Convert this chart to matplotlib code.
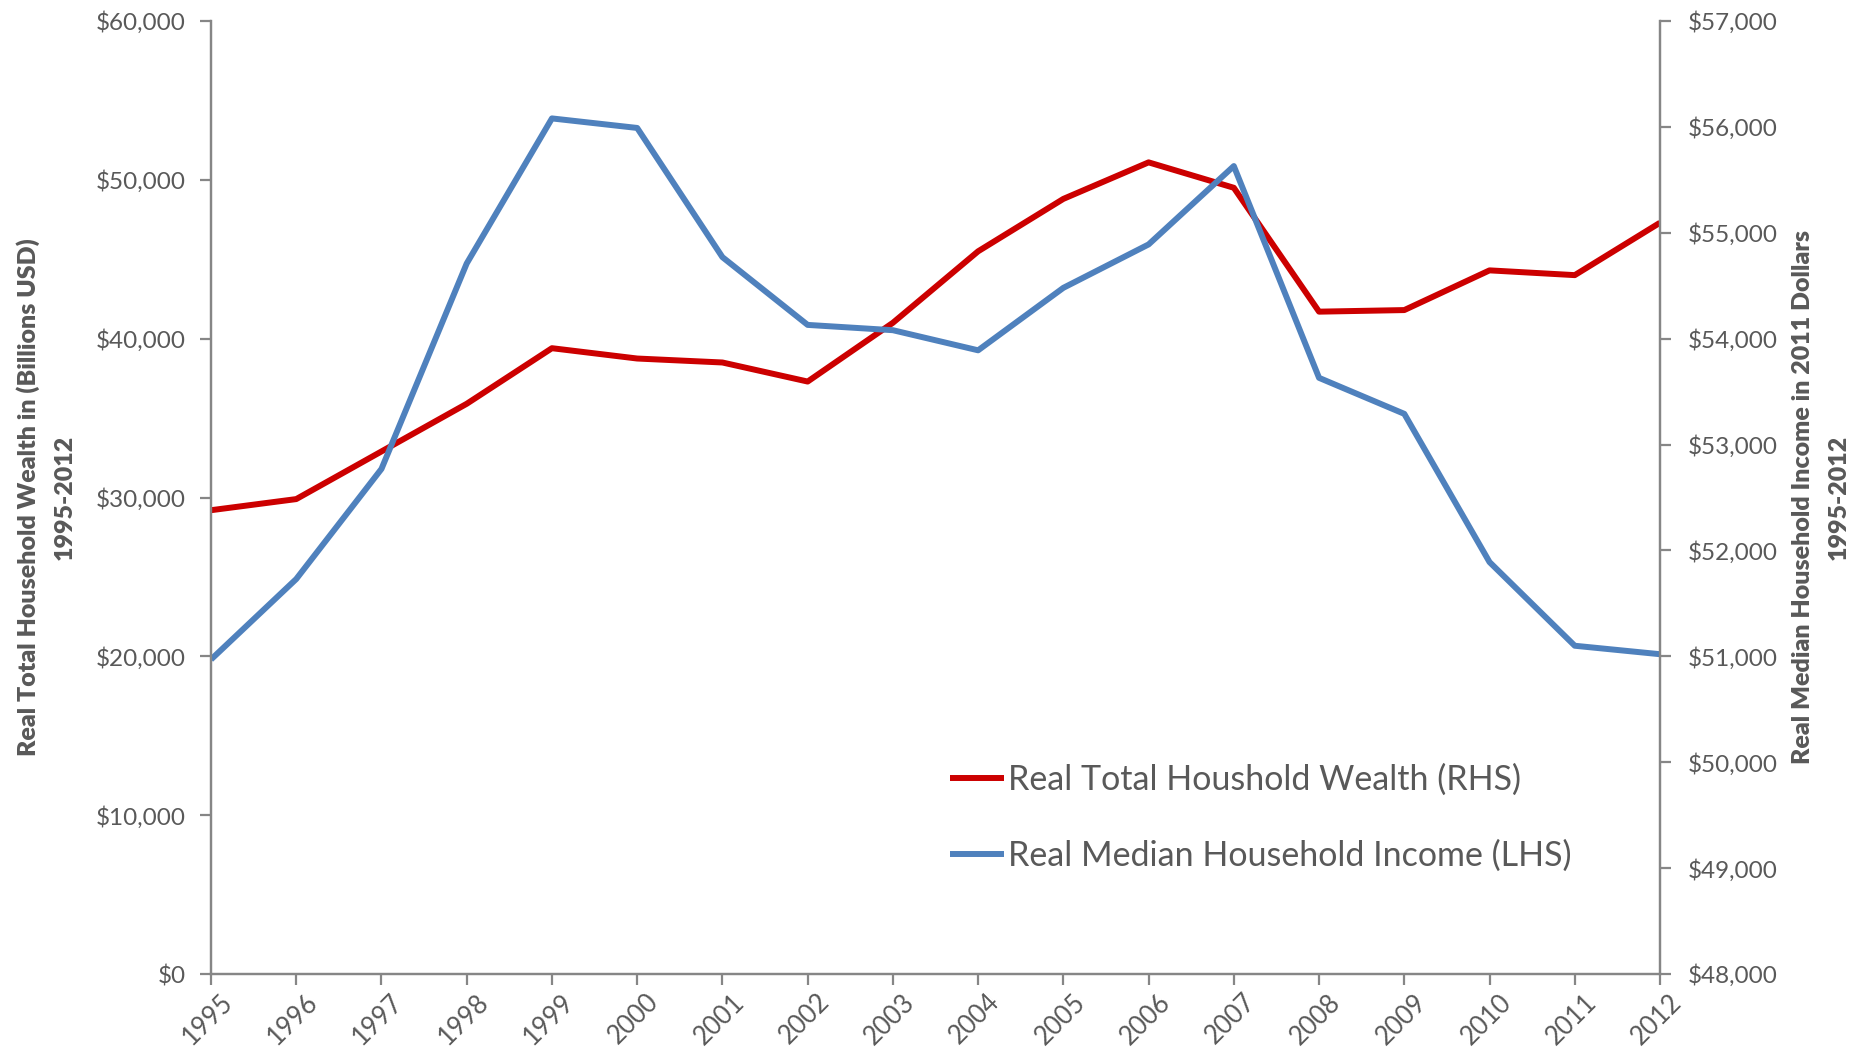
import numpy as np
import matplotlib.pyplot as plt
import matplotlib.transforms as mtransforms
from matplotlib.ticker import FuncFormatter

plt.rcParams['font.family'] = ['Lato', 'DejaVu Sans']

years = list(range(1995, 2013))
# total household wealth, billions USD (plotted against left axis)
wealth = [29200, 29900, 32900, 35900, 39400, 38750, 38500, 37300, 41000,
          45500, 48800, 51100, 49500, 41700, 41800, 44300, 44000, 47300]
# median household income, 2011 dollars (plotted against right axis)
income = [50970, 51730, 52770, 54710, 56080, 55990, 54770, 54130, 54080,
          53890, 54480, 54890, 55630, 53630, 53290, 51890, 51100, 51020]

RED = '#CC0000'
BLUE = '#4F81BD'
GREY = '#868686'
TXT = '#595959'

fig = plt.figure(figsize=(18.62, 10.47), dpi=100)
ax = fig.add_axes([211/1862, 1 - 974/1047, (1660-211)/1862, (974-21)/1047])
ax2 = ax.twinx()

l1, = ax.plot(years, wealth, color=RED, lw=4.3, solid_capstyle='butt',
              label='Real Total Houshold Wealth (RHS)')
l2, = ax2.plot(years, income, color=BLUE, lw=4.3, solid_capstyle='butt',
               label='Real Median Household Income (LHS)')

ax.set_xlim(1995, 2012)
ax.set_ylim(0, 60000)
ax2.set_ylim(48000, 57000)
ax.set_yticks(np.arange(0, 60001, 10000))
ax2.set_yticks(np.arange(48000, 57001, 1000))
ax.set_xticks(years)
ax.set_xticklabels([str(y) for y in years], rotation=45, ha='right',
                   rotation_mode='anchor')

money = FuncFormatter(lambda v, p: '${:,.0f}'.format(v))
ax.yaxis.set_major_formatter(money)
ax2.yaxis.set_major_formatter(money)

for a in (ax, ax2):
    a.spines['top'].set_visible(False)
    for s in a.spines.values():
        s.set_color(GREY)
        s.set_linewidth(1.6)
    a.tick_params(colors=GREY, labelcolor=TXT, labelsize=17.5, length=8,
                  width=1.6, direction='out')
ax.tick_params(axis='y', pad=10)
ax2.tick_params(axis='y', pad=12)
ax.tick_params(axis='x', pad=3, labelsize=18.5)

# nudge year labels right so they end just past their tick
shift = mtransforms.ScaledTranslation(9/100, 0, fig.dpi_scale_trans)
for lab in ax.get_xticklabels():
    lab.set_transform(lab.get_transform() + shift)

ax.set_ylabel('Real Total Household Wealth in (Billions USD)\n1995-2012',
              fontsize=18, fontweight='heavy', color=TXT, labelpad=14.5,
              linespacing=1.75)
ax2.set_ylabel('Real Median Household Income in 2011 Dollars\n1995-2012',
               fontsize=18, fontweight='heavy', color=TXT, labelpad=10.3,
               rotation=90, linespacing=1.75)

leg = ax2.legend(handles=[l1, l2], loc='upper left',
                 bbox_to_anchor=((936-211)/(1660-211), (974-750)/(974-21)),
                 frameon=False, fontsize=24.5, labelcolor=TXT,
                 handlelength=1.6, handletextpad=0.12, labelspacing=1.3,
                 borderaxespad=0)

fig.savefig('out.png', dpi=100)
